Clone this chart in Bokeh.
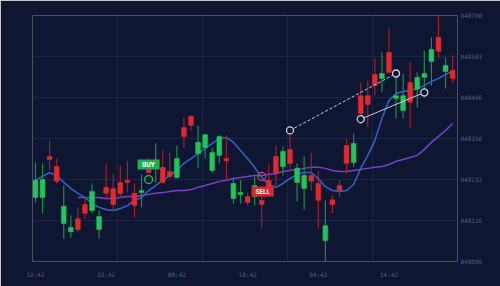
import numpy as np
from bokeh.plotting import figure
from bokeh.models import Range1d, FixedTicker, ColumnDataSource
from bokeh.core.properties import value
from bokeh.embed import file_html
from bokeh.resources import INLINE

# ---- data ----
opens = [48182, 48182, 48299, 48270, 48108, 48085, 48122, 48162, 48145, 48091,
         48211, 48208, 48225, 48231, 48194, 48196, 48262, 48265, 48268, 48256,
         48239, 48381, 48413, 48307, 48324, 48259, 48302, 48293, 48179, 48191,
         48185, 48185, 48174, 48231, 48299, 48270, 48319, 48225, 48208, 48245,
         48222, 48060, 48176, 48216, 48330, 48282, 48472, 48472, 48532, 48521,
         48595, 48464, 48430, 48509, 48490, 48524, 48569, 48638, 48541, 48544]
highs = [48282, 48279, 48344, 48293, 48216, 48131, 48154, 48182, 48222, 48145,
         48279, 48250, 48273, 48287, 48222, 48248, 48293, 48336, 48316, 48310,
         48330, 48410, 48416, 48387, 48364, 48324, 48359, 48359, 48239, 48231,
         48196, 48242, 48213, 48279, 48330, 48327, 48367, 48279, 48299, 48310,
         48256, 48174, 48188, 48231, 48350, 48364, 48507, 48515, 48578, 48595,
         48663, 48535, 48535, 48566, 48538, 48600, 48638, 48700, 48581, 48586]
lows = [48168, 48137, 48259, 48222, 48065, 48068, 48083, 48122, 48139, 48065,
        48182, 48145, 48182, 48196, 48125, 48154, 48250, 48225, 48222, 48236,
        48236, 48324, 48373, 48265, 48293, 48253, 48279, 48231, 48165, 48165,
        48159, 48159, 48094, 48194, 48208, 48245, 48259, 48171, 48148, 48202,
        48094, 48000, 48137, 48182, 48250, 48268, 48393, 48381, 48472, 48481,
        48535, 48407, 48407, 48379, 48438, 48467, 48501, 48578, 48492, 48507]
closes = [48231, 48233, 48290, 48228, 48157, 48097, 48091, 48137, 48199, 48128,
          48194, 48162, 48194, 48225, 48159, 48202, 48253, 48273, 48225, 48242,
          48293, 48356, 48387, 48339, 48361, 48310, 48356, 48287, 48222, 48196,
          48168, 48216, 48162, 48208, 48250, 48313, 48279, 48265, 48245, 48228,
          48174, 48102, 48162, 48202, 48279, 48336, 48421, 48447, 48501, 48535,
          48538, 48472, 48472, 48453, 48524, 48535, 48603, 48598, 48558, 48521]

ma_fast = [48231, 48242, 48253, 48245, 48225, 48208, 48194, 48182, 48165, 48154,
           48148, 48145, 48151, 48159, 48174, 48182, 48202, 48216, 48231, 48245,
           48259, 48279, 48293, 48307, 48322, 48336, 48350, 48353, 48339, 48316,
           48293, 48268, 48239, 48219, 48211, 48222, 48236, 48248, 48253, 48253,
           48236, 48213, 48202, 48199, 48202, 48219, 48265, 48302, 48344, 48407,
           48458, 48478, 48484, 48487, 48492, 48501, 48512, 48521, 48532, 48541]
ma_slow_start = 6
ma_slow = [48182, 48182, 48182, 48182, 48179, 48179, 48182, 48185, 48185, 48188,
           48191, 48194, 48196, 48199, 48202, 48202, 48205, 48211, 48216, 48222,
           48228, 48231, 48236, 48239, 48242, 48245, 48245, 48248, 48250, 48256,
           48259, 48262, 48265, 48268, 48268, 48265, 48259, 48256, 48256, 48259,
           48262, 48265, 48268, 48270, 48276, 48285, 48290, 48296, 48302, 48319,
           48339, 48356, 48373, 48393]

time_ticks = [0, 10, 20, 30, 40, 50]
time_labels = ["12:42", "22:42", "08:42", "18:42", "04:42", "14:42"]
price_ticks = [48000, 48117, 48233, 48350, 48467, 48583, 48700]
price_labels = ["048000", "048116", "048233", "048350", "048466", "048583", "048700"]

dashed_idx = [36, 51]
dashed_val = [48373, 48535]
solid_idx = [46, 55]
solid_val = [48405, 48481]

buy_idx, buy_val, buy_label_val = 16, 48233, 48276
sell_idx, sell_val, sell_label_val = 32, 48242, 48199

# ---- styling ----
BG = "#0f1632"
GRID = "#1b2548"
UP = "#20c65a"
UP_WICK = "#1b8c43"
DOWN = "#e02a2e"
DOWN_WICK = "#9e2029"
TXT = "#555f80"

n = len(opens)
idx = np.arange(n)
x0, x1 = -0.42, 59.69

p = figure(width=500, height=286, output_backend="svg", toolbar_location=None,
           x_range=Range1d(x0, x1), y_range=Range1d(48000, 48700),
           y_axis_location="right",
           min_border_left=32, min_border_right=43, min_border_top=15, min_border_bottom=25)
p.background_fill_color = BG
p.border_fill_color = BG
p.outline_line_color = None

p.xgrid.ticker = FixedTicker(ticks=list(np.linspace(x0, x1, 6)))
p.xgrid.grid_line_color = GRID
p.ygrid.grid_line_color = GRID

p.xaxis.ticker = FixedTicker(ticks=time_ticks)
p.xaxis.major_label_overrides = {t: l for t, l in zip(time_ticks, time_labels)}
p.yaxis.ticker = FixedTicker(ticks=price_ticks)
p.yaxis.major_label_overrides = {t: l for t, l in zip(price_ticks, price_labels)}
for ax in (p.xaxis[0], p.yaxis[0]):
    ax.axis_line_color = None
    ax.major_tick_line_color = None
    ax.minor_tick_line_color = None
    ax.major_tick_out = 0
    ax.major_tick_in = 0
    ax.minor_tick_out = 0
    ax.major_label_text_color = TXT
    ax.major_label_text_font = "DejaVu Sans Mono"
    ax.major_label_text_font_size = "6px"
p.xaxis.major_label_standoff = 9
p.yaxis.major_label_standoff = 3

up = [c >= o for o, c in zip(opens, closes)]
src = ColumnDataSource(dict(
    x=idx, o=opens, h=highs, l=lows, c=closes,
    top=[max(o, c) for o, c in zip(opens, closes)],
    bot=[min(o, c) for o, c in zip(opens, closes)],
    col=[UP if u else DOWN for u in up],
    wick=[UP_WICK if u else DOWN_WICK for u in up],
))

# moving averages
p.line(list(range(ma_slow_start, ma_slow_start + len(ma_slow))), ma_slow,
       line_color="#7840c8", line_width=1.5)
p.line(idx, ma_fast, line_color="#2c66cc", line_width=1.5)

p.segment(x0="x", y0="l", x1="x", y1="h", source=src, line_color="wick", line_width=1.2)
p.vbar(x="x", top="top", bottom="bot", width=0.68, source=src,
       fill_color="col", line_color="col", line_width=0.5)

# trend lines
p.line(dashed_idx, dashed_val, line_color="#c8ccd8", line_width=1, line_dash="3 2")
p.line(solid_idx, solid_val, line_color="#c8ccd8", line_width=1)
p.scatter(dashed_idx + solid_idx, dashed_val + solid_val, size=7, marker="circle",
          fill_color=BG, line_color="#d0d4e0", line_width=1.3)

# buy / sell markers
p.scatter([buy_idx], [buy_val], size=8, marker="circle", fill_color=None,
          line_color=UP, line_width=1.2)
p.scatter([sell_idx], [sell_val], size=8, marker="circle", fill_color=None,
          line_color="#e23a55", line_width=1.2)
p.rect([buy_idx], [buy_label_val], width=22, height=10, width_units="screen",
       height_units="screen", fill_color="#1fb04c", line_color=None)
p.rect([sell_idx + 0.15], [sell_label_val], width=22, height=10, width_units="screen",
       height_units="screen", fill_color="#d8282c", line_color=None)
p.text([buy_idx], [buy_label_val], text=["BUY"], text_align="center",
       text_baseline="middle", text_color="white", text_font=value("Roboto"),
       text_font_style="bold", text_font_size="6.5px")
p.text([sell_idx + 0.15], [sell_label_val], text=["SELL"], text_align="center",
       text_baseline="middle", text_color="white", text_font=value("Roboto"),
       text_font_style="bold", text_font_size="6.5px")

open("out.html", "w").write(file_html(p, INLINE))
